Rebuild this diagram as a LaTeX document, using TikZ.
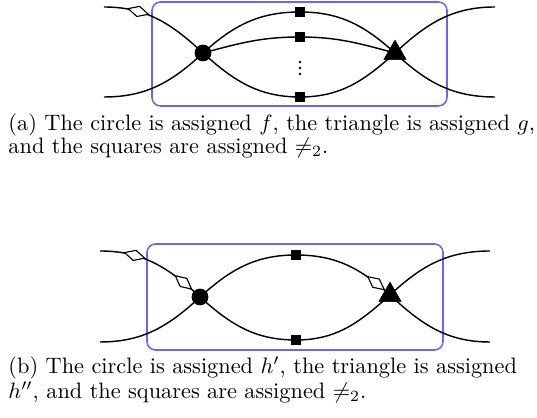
\documentclass[tikz,border=0pt]{standalone}
\usetikzlibrary{shapes.geometric}
\begin{document}
\begin{tikzpicture}[x=0.448pt,y=0.448pt,
  edge/.style={line width=0.64pt},
  vcirc/.style={circle,fill=black,inner sep=0pt,minimum size=7.4pt},
  vtri/.style={regular polygon,regular polygon sides=3,fill=black,inner sep=0pt,minimum size=11.8pt},
  vsq/.style={rectangle,fill=black,inner sep=0pt,minimum size=4.9pt},
  dia/.style={diamond,draw=black,fill=white,line width=0.5pt,inner sep=0pt,minimum width=9.6pt,minimum height=4.9pt,sloped},
  bbox/.style={draw=blue!60,line width=0.7pt,rounded corners=3.8pt},
  dotc/.style={circle,fill=black,inner sep=0pt,minimum size=1.3pt},
  captext/.style={anchor=base west,inner sep=0pt,align=left,font=\fontsize{10}{9.2}\selectfont}
]
\useasboundingbox (0,0) rectangle (537,-418);
% ---------- (a) ----------
\draw[bbox] (152,-2) rectangle (447,-106);
\node[vcirc] (ac) at (203,-53) {};
\node[vtri] (at) at (395,-53) {};
\node[vsq] (as1) at (300,-12) {};
\node[vsq] (as2) at (300,-37) {};
\node[vsq] (as3) at (300,-97) {};
\node[dotc] (ad1) at (300,-62) {};
\node[dotc] (ad2) at (300,-68) {};
\node[dotc] (ad3) at (300,-74) {};
\coordinate (aL1) at (104,-7);
\coordinate (aL2) at (104,-97);
\coordinate (aR1) at (495,-7);
\coordinate (aR2) at (495,-97);
\draw[edge] (aL1) to[out=0,in=137] node[pos=0.3,dia]{} (ac.center);
\draw[edge] (aL2) to[out=0,in=-137] (ac.center);
\draw[edge] (ac.center) to[out=42,in=180] (as1.center) to[out=0,in=138] (at.center);
\draw[edge] (ac.center) to[out=15,in=180] (as2.center) to[out=0,in=165] (at.center);
\draw[edge] (ac.center) to[out=-42,in=180] (as3.center) to[out=0,in=-138] (at.center);
\draw[edge] (at.center) to[out=43,in=180] (aR1);
\draw[edge] (at.center) to[out=-43,in=180] (aR2);
\node[vcirc] at (ac) {};
\node[vtri] at (at) {};
\node[vsq] at (as1) {};
\node[vsq] at (as2) {};
\node[vsq] at (as3) {};
\node[captext] (capa) at (8,-153.5) {(a) The circle is assigned $f$, the triangle is assigned $g$,\\and the squares are assigned $\neq_2$.};
% ---------- (b) ----------
\draw[bbox] (147,-244) rectangle (443,-350);
\node[vcirc] (bc) at (200,-297) {};
\node[vtri] (bt) at (390,-295) {};
\node[vsq] (bs1) at (296,-255) {};
\node[vsq] (bs2) at (296,-340) {};
\coordinate (bL1) at (100,-251);
\coordinate (bL2) at (100,-342);
\coordinate (bR1) at (490,-251);
\coordinate (bR2) at (490,-342);
\draw[edge] (bL1) to[out=0,in=137] node[pos=0.3,dia]{} node[pos=0.82,dia]{} (bc.center);
\draw[edge] (bL2) to[out=0,in=-137] (bc.center);
\draw[edge] (bc.center) to[out=42,in=180] (bs1.center) to[out=0,in=138] node[pos=0.84,dia]{} (bt.center);
\draw[edge] (bc.center) to[out=-42,in=180] (bs2.center) to[out=0,in=-138] (bt.center);
\draw[edge] (bt.center) to[out=43,in=180] (bR1);
\draw[edge] (bt.center) to[out=-43,in=180] (bR2);
\node[vcirc] at (bc) {};
\node[vtri] at (bt) {};
\node[vsq] at (bs1) {};
\node[vsq] at (bs2) {};
\node[captext] (capb) at (8,-398.5) {(b) The circle is assigned $h'$, the triangle is assigned\\$h''$, and the squares are assigned $\neq_2$.};
\end{tikzpicture}
\end{document}
